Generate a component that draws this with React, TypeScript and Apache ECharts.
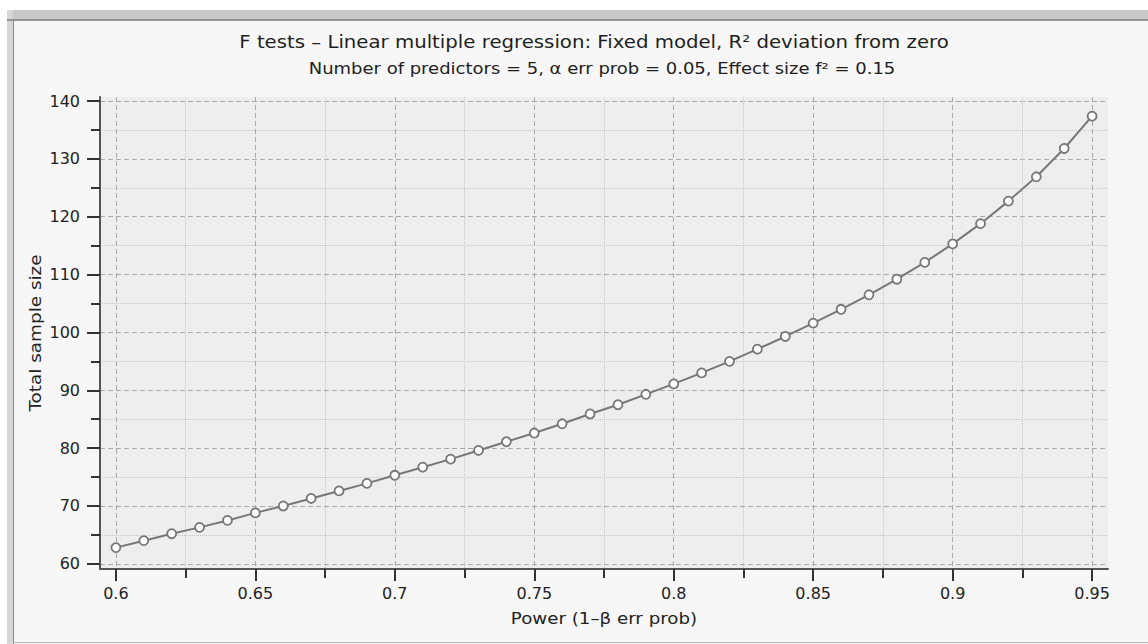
import React, { useEffect, useRef } from "react";
import * as echarts from "echarts";

const powerValues = [
  0.6, 0.61, 0.62, 0.63, 0.64, 0.65, 0.66, 0.67, 0.68, 0.69, 0.7, 0.71, 0.72, 0.73, 0.74, 0.75, 0.76, 0.77,
  0.78, 0.79, 0.8, 0.81, 0.82, 0.83, 0.84, 0.85, 0.86, 0.87, 0.88, 0.89, 0.9, 0.91, 0.92, 0.93, 0.94, 0.95,
];
const sampleSizes = [
  62.8, 64.0, 65.2, 66.3, 67.5, 68.8, 70.0, 71.3, 72.6, 73.9, 75.3, 76.7, 78.1, 79.6, 81.1, 82.6, 84.2, 85.9,
  87.5, 89.3, 91.1, 93.0, 95.0, 97.1, 99.3, 101.6, 104.0, 106.5, 109.2, 112.1, 115.3, 118.8, 122.7, 126.9,
  131.8, 137.4,
];
const xMajorTicks = [0.6, 0.65, 0.7, 0.75, 0.8, 0.85, 0.9, 0.95];
const xMinorTicks = [0.625, 0.675, 0.725, 0.775, 0.825, 0.875, 0.925];
const yMajorTicks = [60, 70, 80, 90, 100, 110, 120, 130, 140];
const yMinorTicks = [65, 75, 85, 95, 105, 115, 125, 135];

const titleText = "F tests – Linear multiple regression: Fixed model, R² deviation from zero";
const subtitleText = "Number of predictors = 5, α err prob = 0.05, Effect size f² = 0.15";
const xAxisName = "Power (1–β err prob)";
const yAxisName = "Total sample size";

const FONT = "'DejaVu Sans', Verdana, sans-serif";

export default function App() {
  const ref = useRef<HTMLDivElement>(null);

  useEffect(() => {
    if (!ref.current) return;
    const chart = echarts.init(ref.current, null, { renderer: "svg" });
    const xMin = 0.5943;
    const xMax = 0.9557;
    const yMin = 59.1;
    const yMax = 140.7;

    const option: any = {
      animation: false,
      backgroundColor: "#f7f7f7",
      textStyle: { fontFamily: FONT },
      grid: {
        left: 100,
        top: 97,
        width: 1008,
        height: 472,
        show: true,
        backgroundColor: "#eeeeee",
        borderWidth: 0,
        containLabel: false,
        outerBoundsMode: "none",
      },
      graphic: [
        { type: "rect", shape: { x: 0, y: 0, width: 1148, height: 10 }, style: { fill: "#ffffff" }, silent: true },
        { type: "rect", shape: { x: 0, y: 0, width: 7, height: 644 }, style: { fill: "#ffffff" }, silent: true },
        { type: "rect", shape: { x: 7, y: 10, width: 1141, height: 10 }, style: { fill: "#c8c8c8" }, silent: true },
        { type: "rect", shape: { x: 7, y: 10, width: 6, height: 634 }, style: { fill: "#d6d6d6" }, silent: true },
        { type: "line", shape: { x1: 7, y1: 20, x2: 1148, y2: 20 }, style: { stroke: "#7d7d7d", lineWidth: 1.5 }, silent: true },
        { type: "line", shape: { x1: 13.5, y1: 20, x2: 13.5, y2: 644 }, style: { stroke: "#8a8a8a", lineWidth: 1 }, silent: true },
        { type: "line", shape: { x1: 13, y1: 642.5, x2: 1148, y2: 642.5 }, style: { stroke: "#b5b5b5", lineWidth: 1 }, silent: true },
        {
          type: "text",
          x: 594,
          y: 42,
          scaleX: 1.16,
          style: { text: titleText, fill: "#1e1e1e", font: `17px ${FONT}`, textAlign: "center", textVerticalAlign: "middle" },
        },
        {
          type: "text",
          x: 602,
          y: 69,
          scaleX: 1.2,
          style: { text: subtitleText, fill: "#1e1e1e", font: `15px ${FONT}`, textAlign: "center", textVerticalAlign: "middle" },
        },
        {
          type: "text",
          x: 604,
          y: 618,
          scaleX: 1.14,
          style: { text: xAxisName, fill: "#222222", font: `16px ${FONT}`, textAlign: "center", textVerticalAlign: "middle" },
        },
        {
          type: "text",
          x: 35,
          y: 333,
          rotation: Math.PI / 2,
          scaleX: 1.15,
          style: { text: yAxisName, fill: "#222222", font: `16px ${FONT}`, textAlign: "center", textVerticalAlign: "middle" },
        },
      ],
      xAxis: [
        {
          type: "value",
          min: xMin,
          max: xMax,
          position: "bottom",
          axisLine: { show: true, onZero: false, lineStyle: { color: "#555", width: 2 } },
          axisTick: { show: true, customValues: xMajorTicks, length: 12, lineStyle: { color: "#333", width: 2 } },
          axisLabel: { customValues: xMajorTicks, fontSize: 16, color: "#222", margin: 16, fontFamily: FONT },
          splitLine: { show: true, lineStyle: { color: "#a9a9a9", width: 1, type: [5, 3] } },
        },
        {
          type: "value",
          min: xMin,
          max: xMax,
          position: "bottom",
          axisLine: { show: false, onZero: false },
          axisTick: { show: true, customValues: xMinorTicks, length: 9, lineStyle: { color: "#333", width: 2 } },
          axisLabel: { show: false },
          splitLine: { show: true, lineStyle: { color: "#c6c6c6", width: 1, type: "dotted" } },
        },
      ],
      yAxis: [
        {
          type: "value",
          min: yMin,
          max: yMax,
          position: "left",
          axisLine: { show: true, onZero: false, lineStyle: { color: "#555", width: 2 } },
          axisTick: { show: true, customValues: yMajorTicks, length: 13, lineStyle: { color: "#333", width: 2 } },
          axisLabel: { customValues: yMajorTicks, fontSize: 16, color: "#222", margin: 20, fontFamily: FONT },
          splitLine: { show: true, lineStyle: { color: "#a9a9a9", width: 1, type: [5, 3] } },
        },
        {
          type: "value",
          min: yMin,
          max: yMax,
          position: "left",
          axisLine: { show: false, onZero: false },
          axisTick: { show: true, customValues: yMinorTicks, length: 9, lineStyle: { color: "#333", width: 2 } },
          axisLabel: { show: false },
          splitLine: { show: true, lineStyle: { color: "#c6c6c6", width: 1, type: "dotted" } },
        },
      ],
      series: [
        {
          type: "line",
          xAxisIndex: 0,
          yAxisIndex: 0,
          data: powerValues.map((p, i) => [p, sampleSizes[i]]),
          symbol: "circle",
          symbolSize: 9,
          showSymbol: true,
          lineStyle: { color: "#777777", width: 2 },
          itemStyle: { color: "#ffffff", borderColor: "#777777", borderWidth: 1.8 },
          z: 5,
        },
      ],
    };
    chart.setOption(option);
    return () => chart.dispose();
  }, []);

  return <div ref={ref} style={{ position: "absolute", left: 0, top: 0, width: 1148, height: 644 }} />;
}
